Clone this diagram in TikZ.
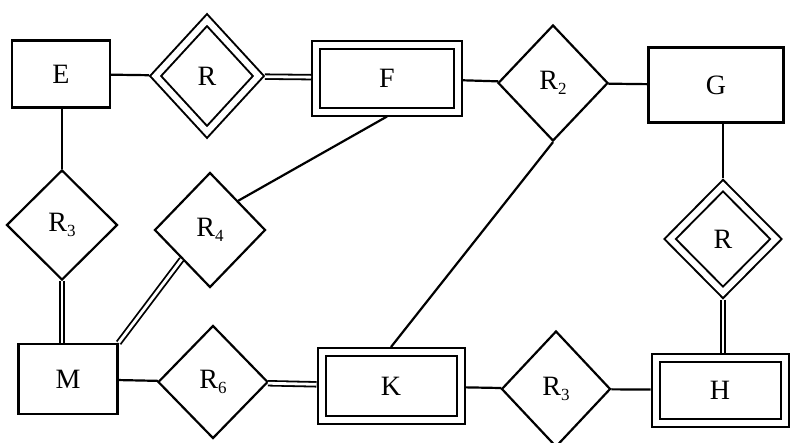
\documentclass[tikz,border=0pt]{standalone}
\usepackage{fontspec}
\setmainfont{Liberation Serif}
\usetikzlibrary{shapes.geometric}
\newcommand{\sbs}[1]{\raisebox{-0.4ex}{\fontsize{17}{17}\selectfont #1}}
\begin{document}
\begin{tikzpicture}[x=1pt,y=-1pt,
  every node/.style={font=\fontsize{28}{32}\selectfont},
  ent/.style={draw,line width=2.2pt,rectangle,inner sep=0pt},
  went/.style={draw,line width=2pt,double,double distance=6pt,rectangle,inner sep=0pt,outer sep=5pt},
  rel/.style={draw,line width=2.2pt,diamond,inner sep=0pt},
  wrel/.style={draw,line width=2pt,double,double distance=6pt,diamond,inner sep=0pt,outer sep=5pt},
  lnk/.style={line width=2.2pt},
  dlnk/.style={line width=1.8pt,double,double distance=2.8pt}]
\useasboundingbox (0,0) rectangle (791,442);
\node[ent,minimum width=98pt,minimum height=67pt] (E) at (61,74) {E};
\node[wrel,minimum width=107pt,minimum height=116pt] (Rt) at (207,76) {R};
\node[went,minimum width=142pt,minimum height=67pt] (F) at (387,78) {F};
\node[rel,minimum width=110pt,minimum height=116pt] (R2) at (553,83) {R\sbs{2}};
\node[ent,minimum width=135pt,minimum height=75pt] (G) at (716,85) {G};
\node[rel,minimum width=111pt,minimum height=110pt] (R3a) at (62,225) {R\sbs{3}};
\node[rel,minimum width=111pt,minimum height=115pt] (R4) at (210,230) {R\sbs{4}};
\node[wrel,minimum width=110pt,minimum height=111pt] (Rr) at (723,239) {R};
\node[ent,minimum width=99pt,minimum height=70pt] (M) at (68,379) {M};
\node[rel,minimum width=110pt,minimum height=113pt] (R6) at (213,382) {R\sbs{6}};
\node[went,minimum width=139pt,minimum height=68pt] (K) at (391,386) {K};
\node[rel,minimum width=109pt,minimum height=116pt] (R3b) at (556,389) {R\sbs{3}};
\node[went,minimum width=129pt,minimum height=65pt] (H) at (720,390) {H};
\draw[lnk] (E) -- (Rt);
\draw[dlnk] (Rt) -- (F);
\draw[lnk] (F) -- (R2);
\draw[lnk] (R2) -- (G);
\draw[lnk] (E.south-|R3a) -- (R3a);
\draw[dlnk] (R3a) -- (R3a|-M.north);
\draw[lnk] (R4.north east) -- (F.south);
\draw[dlnk] (R4.south west) -- (M.north east);
\draw[lnk] (R2.south) -- (K.north);
\draw[lnk] (M) -- (R6);
\draw[dlnk] (R6) -- (K);
\draw[lnk] (K) -- (R3b);
\draw[lnk] (R3b) -- (H);
\draw[lnk] (G.south-|Rr) -- (Rr);
\draw[dlnk] (Rr) -- (Rr|-H.north);
\end{tikzpicture}
\end{document}
